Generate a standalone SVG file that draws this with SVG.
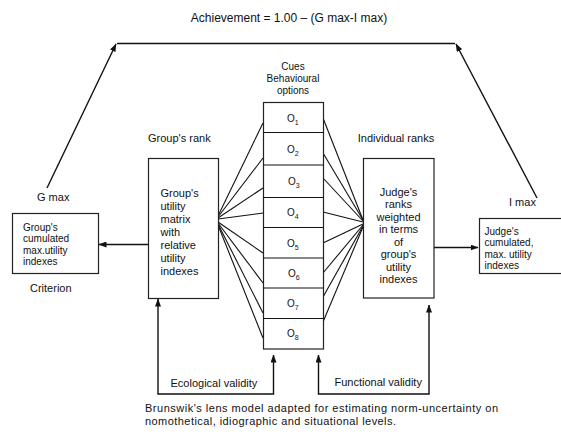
<svg xmlns="http://www.w3.org/2000/svg" width="561" height="435" viewBox="0 0 561 435">
<style>
text{font-family:"Liberation Sans",Arial,sans-serif;fill:#111;}
.l{font-size:11px;}
.s{font-size:10px;}
.c{text-anchor:middle;}
.box{fill:#fff;stroke:#222;stroke-width:1.2;}
.ln{fill:none;stroke:#111;stroke-width:1.1;}
.ar{fill:none;stroke:#111;stroke-width:1.4;}
.sub{font-size:7px;}
</style>
<defs>
<marker id="ah" viewBox="0 0 8 6" refX="7.5" refY="3" markerWidth="8" markerHeight="6" markerUnits="userSpaceOnUse" orient="auto-start-reverse">
<path d="M0,0 L8,3 L0,6 z" fill="#111"/>
</marker>
</defs>
<rect width="561" height="435" fill="#fff"/>

<g id="title">
<text x="289" y="22" class="c" style="font-size:12px">Achievement = 1.00 – (G max-I max)</text>
</g>

<g id="connectors">
<path class="ar" d="M47,188 L116,44" marker-end="url(#ah)"/>
<path class="ar" d="M537,198 L456,44" marker-end="url(#ah)"/>
<path class="ar" d="M117,43.5 L455,43.5"/>
<path class="ar" d="M148,244.5 L99,244.5" marker-end="url(#ah)"/>
<path class="ar" d="M434,247.5 L478,247.5" marker-end="url(#ah)"/>
<path class="ar" d="M158,299 L158,394 L273.5,394 L273.5,355" marker-start="url(#ah)" marker-end="url(#ah)"/>
<path class="ar" d="M318.5,355 L318.5,394 L429,394 L429,305" marker-start="url(#ah)" marker-end="url(#ah)"/>
<g class="ln">
<path d="M218,216 L263,123"/>
<path d="M218,217 L263,158"/>
<path d="M218,218 L263,188"/>
<path d="M218,219 L263,213"/>
<path d="M218,222 L263,253"/>
<path d="M218,223 L263,283"/>
<path d="M218,224 L263,313"/>
<path d="M218,225 L263,338"/>
<path d="M323,118 L363,220"/>
<path d="M323,153 L363,220"/>
<path d="M323,178 L363,221"/>
<path d="M323,212 L363,222"/>
<path d="M323,243 L363,224"/>
<path d="M323,273 L363,225"/>
<path d="M323,297 L363,226"/>
<path d="M323,322 L363,227"/>
</g>
</g>

<g id="cues">
<text x="293" y="70" class="s c">Cues</text>
<text x="293" y="82" class="s c">Behavioural</text>
<text x="293" y="94" class="s c">options</text>
<rect class="box" x="263.5" y="102.5" width="60" height="246.5"/>
<g class="ln">
<path d="M263.5,132.5 H323.5"/>
<path d="M263.5,165 H323.5"/>
<path d="M263.5,197.5 H323.5"/>
<path d="M263.5,227.5 H323.5"/>
<path d="M263.5,258 H323.5"/>
<path d="M263.5,288 H323.5"/>
<path d="M263.5,318.5 H323.5"/>
</g>
<text x="287" y="122" class="s">O<tspan class="sub" dy="2.5">1</tspan></text>
<text x="287" y="153" class="s">O<tspan class="sub" dy="2.5">2</tspan></text>
<text x="288" y="185" class="s">O<tspan class="sub" dy="2.5">3</tspan></text>
<text x="287" y="216" class="s">O<tspan class="sub" dy="2.5">4</tspan></text>
<text x="287" y="247" class="s">O<tspan class="sub" dy="2.5">5</tspan></text>
<text x="288" y="277" class="s">O<tspan class="sub" dy="2.5">6</tspan></text>
<text x="287" y="307" class="s">O<tspan class="sub" dy="2.5">7</tspan></text>
<text x="287" y="337" class="s">O<tspan class="sub" dy="2.5">8</tspan></text>
</g>

<g id="group-rank">
<text x="148" y="142" class="l">Group's rank</text>
<rect class="box" x="148.5" y="158.5" width="70" height="140"/>
<text class="l" x="160.5" y="196.7">Group's</text>
<text class="l" x="160.5" y="209.7">utility</text>
<text class="l" x="160.5" y="222.7">matrix</text>
<text class="l" x="160.5" y="235.7">with</text>
<text class="l" x="160.5" y="248.7">relative</text>
<text class="l" x="160.5" y="261.7">utility</text>
<text class="l" x="160.5" y="274.7">indexes</text>
</g>

<g id="individual-ranks">
<text x="396" y="142" class="l c">Individual ranks</text>
<rect class="box" x="363.5" y="158.5" width="70.5" height="139.5"/>
<text class="l c" x="398.5" y="195.7">Judge's</text>
<text class="l c" x="398.5" y="208.2">ranks</text>
<text class="l c" x="398.5" y="220.7">weighted</text>
<text class="l c" x="398.5" y="233.2">in terms</text>
<text class="l c" x="398.5" y="245.7">of</text>
<text class="l c" x="398.5" y="258.2">group's</text>
<text class="l c" x="398.5" y="270.7">utility</text>
<text class="l c" x="398.5" y="283.2">indexes</text>
</g>

<g id="g-max">
<text x="37" y="201" class="l">G max</text>
<rect class="box" x="12.5" y="213.5" width="86" height="60"/>
<text class="s" x="23" y="231">Group's</text>
<text class="s" x="23" y="242.3">cumulated</text>
<text class="s" x="23" y="253.6">max.utility</text>
<text class="s" x="23" y="265">indexes</text>
<text x="30" y="292" class="l">Criterion</text>
</g>

<g id="i-max">
<text x="509" y="206" class="l">I max</text>
<rect class="box" x="479.5" y="218.5" width="90" height="55"/>
<text class="s" x="484.5" y="235">Judge's</text>
<text class="s" x="484.5" y="246.3">cumulated,</text>
<text class="s" x="484.5" y="257.6">max. utility</text>
<text class="s" x="484.5" y="269">indexes</text>
</g>

<g id="validity-labels">
<text x="170.5" y="387" class="l">Ecological validity</text>
<text x="334.5" y="385.5" class="l">Functional validity</text>
</g>

<g id="caption">
<text x="145" y="412" class="l" textLength="353" lengthAdjust="spacing">Brunswik's lens model adapted for estimating norm-uncertainty on</text>
<text x="145" y="425" class="l" textLength="251" lengthAdjust="spacing">nomothetical, idiographic and situational levels.</text>
</g>
</svg>
